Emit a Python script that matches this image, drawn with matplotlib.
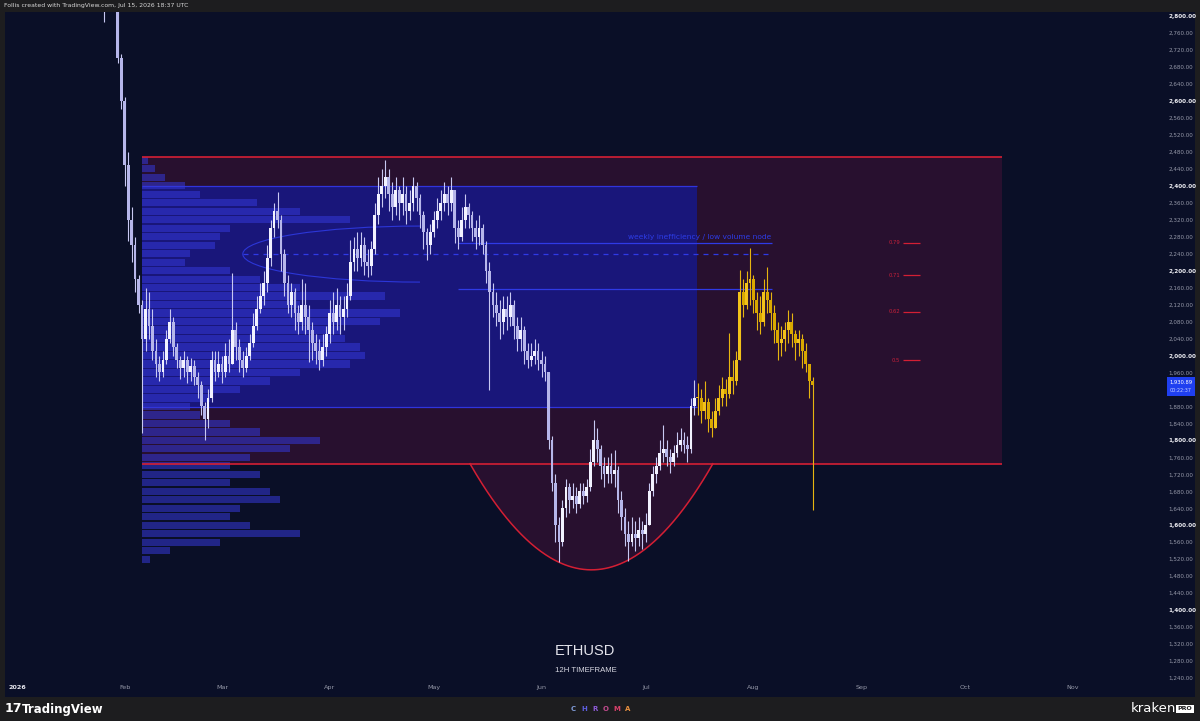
import numpy as np
import pandas as pd
import matplotlib
matplotlib.use('Agg')
import matplotlib.pyplot as plt
from matplotlib.patches import Rectangle, Arc

# ---- data (days since 2026-01-01, 12H chart shown as daily bars) ----
white_start = 25
white_close = [2850, 2880, 2870, 2830, 2700, 2600, 2450, 2320, 2260, 2180,
               2120, 2040, 2110, 2070, 2010, 1980, 1960, 1990, 2040, 2080,
               2020, 1990, 1970, 1990, 1960, 1975, 1950, 1930, 1880, 1850,
               1900, 1990, 1960, 1980, 1960, 2000, 1980, 2060, 2020, 1990,
               1970, 2000, 2030, 2070, 2110, 2140, 2170, 2230, 2300, 2340,
               2320, 2240, 2170, 2120, 2150, 2100, 2080, 2120, 2090, 2060,
               2030, 2010, 1990, 2020, 2050, 2100, 2080, 2120, 2090, 2110,
               2140, 2220, 2250, 2230, 2260, 2220, 2210, 2250, 2330, 2380,
               2400, 2420, 2380, 2350, 2390, 2360, 2380, 2340, 2360, 2400,
               2370, 2330, 2290, 2260, 2290, 2320, 2340, 2360, 2380, 2360,
               2390, 2300, 2280, 2320, 2350, 2330, 2300, 2280, 2300, 2260,
               2200, 2150, 2120, 2100, 2080, 2110, 2090, 2120, 2070, 2040,
               2060, 2010, 1990, 2000, 2010, 1990, 1980, 1960, 1800, 1700,
               1600, 1560, 1640, 1690, 1660, 1670, 1650, 1680, 1670, 1690,
               1750, 1800, 1780, 1740, 1720, 1740, 1720, 1730, 1660, 1620,
               1580, 1560, 1580, 1570, 1590, 1580, 1600, 1680, 1720, 1740,
               1770, 1780, 1760, 1750, 1770, 1790, 1800, 1790, 1780, 1880,
               1900]
white_high = [2900, 2920, 2900, 2880, 2835, 2710, 2610, 2480, 2350, 2280,
              2190, 2130, 2160, 2150, 2110, 2040, 2000, 2010, 2060, 2110,
              2090, 2030, 2000, 2010, 2000, 1995, 1990, 1960, 1940, 1890,
              1920, 2010, 2010, 2010, 2000, 2030, 2040, 2195, 2080, 2040,
              2010, 2020, 2050, 2100, 2140, 2170, 2200, 2260, 2320, 2360,
              2385, 2330, 2250, 2190, 2170, 2160, 2120, 2180, 2170, 2120,
              2080, 2050, 2040, 2050, 2070, 2130, 2150, 2160, 2140, 2140,
              2170, 2272, 2280, 2290, 2290, 2280, 2250, 2270, 2360, 2420,
              2440, 2461, 2440, 2410, 2420, 2400, 2420, 2400, 2390, 2420,
              2410, 2380, 2340, 2300, 2310, 2340, 2370, 2390, 2410, 2400,
              2421, 2390, 2320, 2350, 2380, 2360, 2340, 2320, 2330, 2310,
              2270, 2220, 2170, 2150, 2130, 2140, 2140, 2150, 2130, 2090,
              2090, 2070, 2030, 2030, 2040, 2030, 2010, 2000, 1960, 1810,
              1720, 1620, 1660, 1710, 1700, 1700, 1690, 1700, 1700, 1710,
              1780, 1848, 1830, 1790, 1760, 1760, 1770, 1778, 1740, 1680,
              1640, 1610, 1620, 1610, 1620, 1610, 1630, 1700, 1740, 1760,
              1800, 1836, 1800, 1780, 1790, 1820, 1830, 1820, 1810, 1900,
              1942]
white_low = [2786, 2840, 2830, 2812, 2690, 2580, 2400, 2270, 2220, 2150,
             2100, 1818, 2010, 2040, 1990, 1950, 1940, 1950, 1980, 2030,
             2000, 1970, 1945, 1950, 1935, 1940, 1930, 1900, 1860, 1800,
             1830, 1890, 1940, 1950, 1935, 1950, 1960, 1980, 1990, 1960,
             1950, 1960, 1990, 2020, 2060, 2100, 2120, 2150, 2210, 2280,
             2300, 2200, 2140, 2100, 2090, 2060, 2050, 2060, 2050, 1985,
             1990, 1980, 1965, 1975, 2000, 2030, 2050, 2060, 2050, 2060,
             2090, 2130, 2200, 2200, 2210, 2190, 2185, 2190, 2240, 2310,
             2350, 2370, 2340, 2320, 2330, 2320, 2330, 2310, 2320, 2340,
             2340, 2300, 2250, 2225, 2240, 2280, 2300, 2320, 2340, 2330,
             2340, 2265, 2250, 2270, 2300, 2300, 2270, 2250, 2260, 2240,
             2170, 1919, 2090, 2070, 2040, 2050, 2060, 2070, 2040, 2010,
             2010, 1980, 1970, 1975, 1980, 1965, 1950, 1940, 1780, 1680,
             1560, 1514, 1550, 1620, 1630, 1640, 1630, 1640, 1650, 1655,
             1680, 1740, 1750, 1710, 1690, 1700, 1700, 1690, 1630, 1590,
             1550, 1515, 1550, 1540, 1550, 1545, 1560, 1600, 1670, 1700,
             1730, 1750, 1740, 1722, 1740, 1760, 1775, 1770, 1750, 1770,
             1860]

proj_start = 196
proj_close = [1900, 1870, 1890, 1850, 1830, 1870, 1900, 1920, 1910, 1950,
              1940, 1990, 2150, 2120, 2170, 2180, 2130, 2100, 2080, 2150,
              2130, 2100, 2060, 2030, 2040, 2060, 2080, 2050, 2030, 2040,
              2010, 1980, 1940, 1931]
proj_high = [1935, 1920, 1940, 1900, 1870, 1900, 1930, 1950, 1945, 2053,
             1990, 2010, 2202, 2180, 2200, 2254, 2190, 2150, 2140, 2180,
             2209, 2150, 2120, 2080, 2070, 2080, 2107, 2100, 2060, 2060,
             2050, 2030, 1980, 1950]
proj_low = [1860, 1840, 1850, 1820, 1808, 1830, 1860, 1880, 1880, 1900,
            1910, 1930, 1990, 2090, 2110, 2120, 2100, 2060, 2050, 2070,
            2100, 2060, 2030, 1990, 2000, 2010, 2030, 2020, 1990, 2000,
            1970, 1960, 1900, 1636]

# volume profile rows (price, width in days from anchor)
profile_price = [2460, 2440, 2420, 2400, 2380, 2360, 2340, 2320, 2300, 2280,
                 2260, 2240, 2220, 2200, 2180, 2160, 2140, 2120, 2100, 2080,
                 2060, 2040, 2020, 2000, 1980, 1960, 1940, 1920, 1900, 1880,
                 1860, 1840, 1820, 1800, 1780, 1760, 1740, 1720, 1700, 1680,
                 1660, 1640, 1620, 1600, 1580, 1560, 1540, 1520]
profile_len = [1.7, 3.7, 6.6, 12.4, 16.7, 33.1, 45.5, 59.9, 25.3, 22.5,
               21.0, 13.8, 12.4, 25.3, 34.0, 45.5, 69.9, 45.5, 74.3, 68.5,
               57.0, 58.4, 62.8, 64.2, 59.9, 45.5, 36.8, 28.2, 19.6, 13.8,
               16.7, 25.3, 34.0, 51.2, 42.6, 31.1, 25.3, 34.0, 25.3, 36.8,
               39.7, 28.2, 25.3, 31.1, 45.5, 22.5, 8.1, 2.3]
profile_anchor = 36

range_left, range_right = 36, 283.5
range_top, range_bottom = 2468, 1745
value_left, value_right = 36, 195.7
value_top, value_bottom = 2400, 1879
ineff_top, ineff_mid, ineff_bottom = 2265, 2239, 2157
cup_left, cup_right, cup_low = 130.4, 200.3, 1495
fib_low, fib_high = 1510, 2467
fib_ratios = [0.5, 0.62, 0.71, 0.79]
last_price = 1930.89

BG = '#0a0f27'
W, H = 1200, 721


def fx(px):
    return px / W


def fy(py):
    return 1 - py / H


fig = plt.figure(figsize=(12, 7.21), dpi=100)
fig.patch.set_facecolor('#1d1d1f')
fig.patches.append(Rectangle((fx(5), fy(697)), fx(1195) - fx(5), fy(12) - fy(697),
                             transform=fig.transFigure, facecolor=BG,
                             edgecolor='none', zorder=-1))
ax = fig.add_axes([fx(5), fy(682), fx(1165) - fx(5), fy(12) - fy(682)])
ax.set_facecolor(BG)
for s in ax.spines.values():
    s.set_visible(False)
ax.set_xlim(-3.45, 330.45)
ax.set_ylim(1230.7, 2809.4)

# range box + value box
ax.add_patch(Rectangle((range_left, range_bottom), range_right - range_left,
                       range_top - range_bottom, facecolor='#28102f',
                       edgecolor='none', zorder=1))
ax.add_patch(Rectangle((value_left, value_bottom), value_right - value_left,
                       value_top - value_bottom, facecolor='#19167a',
                       edgecolor='none', zorder=2))
ax.hlines([value_top, value_bottom], value_left, value_right,
          color='#3034dc', lw=0.9, zorder=2.5)

# cup
cd = np.linspace(cup_left, cup_right, 200)
mid = (cup_left + cup_right) / 2
half = (cup_right - cup_left) / 2
cp = cup_low + (range_bottom - cup_low) * ((cd - mid) / half) ** 2
ax.fill_between(cd, cp, range_bottom, color='#28102f', lw=0, zorder=1)
ax.plot(cd, cp, color='#d41f34', lw=1.1, zorder=4)
ax.hlines([range_top, range_bottom], range_left, range_right,
          color='#d41f34', lw=1.2, zorder=4)

# volume profile
ax.barh(profile_price, profile_len, left=profile_anchor, height=17,
        color='#3438d8', alpha=0.55, lw=0, zorder=3)
ax.add_patch(Arc((116, 2239), 102, 132, theta1=90, theta2=270,
                 color='#2c36d8', lw=0.8, zorder=3))

# inefficiency lines
ax.hlines([ineff_top, ineff_bottom], 127, 217.3, color='#2f3ae6', lw=0.9, zorder=4)
ax.hlines(ineff_mid, 65, 217.3, color='#2f3ae6', lw=0.9, linestyles=(0, (4, 4)), zorder=4)
ax.text(217.0, ineff_top + 6, 'weekly inefficiency / low volume node', color='#2d3ce6',
        fontsize=5.4, ha='right', va='bottom', zorder=4)

# fib levels
for r in fib_ratios:
    p = fib_low + r * (fib_high - fib_low)
    ax.hlines(p, 255, 260, color='#d41f34', lw=0.9, zorder=4)
    ax.text(254.2, p, f'{r:g}', color='#c8203a', fontsize=3.8, ha='right', va='center')


def candles(start, close, high, low, up_c, dn_c, wick_c, first_open, w):
    days = np.arange(start, start + len(close))
    close = np.array(close, dtype=float)
    opens = np.concatenate([[first_open], close[:-1]])
    ax.vlines(days, low, high, color=wick_c, lw=0.8, zorder=5)
    cols = [up_c if c >= o else dn_c for o, c in zip(opens, close)]
    body = close - opens
    body = np.where(np.abs(body) < 3, 3, body)
    ax.bar(days, body, bottom=opens, width=w, color=cols, lw=0, zorder=6)


candles(white_start, white_close, white_high, white_low,
        '#f2f2ff', '#b6b6ea', '#c8c8f2', 2830, 0.8)
candles(proj_start, proj_close, proj_high, proj_low,
        '#f2c21a', '#d9a800', '#e6b410', white_close[-1], 0.85)

# axes ticks
month_starts = pd.date_range('2026-01-01', '2026-11-01', freq='MS')
xt = [(m - pd.Timestamp('2026-01-01')).days for m in month_starts]
xl = ['2026'] + [m.strftime('%b') for m in month_starts[1:]]
ax.set_xticks(xt)
ax.set_xticklabels(xl)
ax.tick_params(axis='x', length=0, pad=2.5, labelsize=4.6, labelcolor='#9598a8')
ax.get_xticklabels()[0].set_color('#e8e8f0')
ax.get_xticklabels()[0].set_fontweight('bold')

yt = np.arange(1240, 2801, 40)
ax.yaxis.tick_right()
ax.set_yticks(yt)
ax.set_yticklabels([f'{v:,.2f}' for v in yt])
ax.tick_params(axis='y', length=0, pad=2.5, labelsize=4.1, labelcolor='#9598a8')
for v, lab in zip(yt, ax.get_yticklabels()):
    if v % 200 == 0:
        lab.set_color('#f0f0f5')
        lab.set_fontweight('bold')

# last price tag
ty = 16 + (2800 - last_price) * 0.4244
fig.patches.append(Rectangle((fx(1167), fy(ty + 11)), fx(28), 19 / H,
                             transform=fig.transFigure, facecolor='#1f3ff0',
                             edgecolor='none', zorder=3))
fig.text(fx(1181), fy(ty - 2.5), f'{last_price:,.2f}', color='white', fontsize=3.7,
         ha='center', va='center', zorder=4)
fig.text(fx(1181), fy(ty + 6), '00:22:37', color='#c8d0ff', fontsize=3.5,
         ha='center', va='center', zorder=4)

# titles
fig.text(fx(585), fy(651), 'ETHUSD', color='#e4e4ec', fontsize=10.5,
         family='Liberation Sans', ha='center', va='center')
fig.text(fx(586), fy(671), '12H TIMEFRAME', color='#d8d8e2', fontsize=5.6,
         family='Liberation Sans', ha='center', va='center')

# header / footer
fig.text(fx(4), fy(6), 'Follis created with TradingView.com, Jul 15, 2026 18:37 UTC',
         color='#d8d8d8', fontsize=4.4, ha='left', va='center')
fig.text(fx(5), fy(709), '17', color='white', fontsize=9, fontweight='bold',
         ha='left', va='center')
fig.text(fx(22), fy(709), 'TradingView', color='white', fontsize=8.5,
         fontweight='bold', ha='left', va='center')
chroma_cols = ['#7f9ad6', '#5d5fe0', '#8d5bd6', '#c04a8c', '#d8406a', '#e89040']
for i, (ch, c) in enumerate(zip('CHROMA', chroma_cols)):
    fig.text(fx(573 + i * 11), fy(709), ch, color=c, fontsize=5, fontweight='bold',
             ha='center', va='center')
fig.text(fx(1176), fy(709), 'kraken', color='white', fontsize=9.5,
         ha='right', va='center')
fig.text(fx(1185), fy(709), 'PRO', color='#1d1d1f', fontsize=4.5, fontweight='bold',
         ha='center', va='center',
         bbox=dict(boxstyle='square,pad=0.25', facecolor='white', edgecolor='none'))

fig.savefig('out.png', dpi=100, facecolor=fig.get_facecolor())
